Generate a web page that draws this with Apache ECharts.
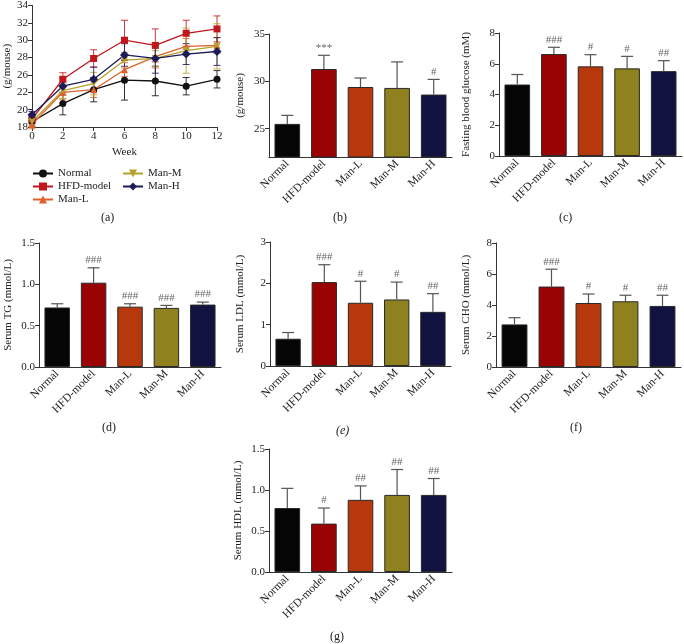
<!DOCTYPE html>
<html><head><meta charset="utf-8">
<script src="https://cdn.jsdelivr.net/npm/echarts@6/dist/echarts.min.js"></script>
<style>html,body{margin:0;padding:0;background:#fff}#c{width:684px;height:644px}</style>
</head><body><div id="c"></div>
<script>
// ---------- DATA ----------
const groups = ['Normal', 'HFD-model', 'Man-L', 'Man-M', 'Man-H'];

// (a) body weight over time
const weeks = [0, 2, 4, 6, 8, 10, 12];
const weekTicks = [0, 2, 4, 6, 8, 10, 12];
const weightAxisValues = [20, 22, 24, 26, 28, 30, 32, 34];
const weightAxisLabels = ['18', '20', '22', '26', '28', '30', '32', '34'];
const wNormal = [20.6, 22.7, 24.3, 25.4, 25.3, 24.7, 25.5];
const wNormalErr = [0.5, 1.3, 1.4, 2.3, 1.7, 1.0, 1.0];
const wHFD = [20.9, 25.5, 27.9, 30.0, 29.4, 30.8, 31.3];
const wHFDErr = [0.5, 0.75, 1.0, 2.3, 1.9, 1.5, 1.5];
const wManL = [20.3, 24.0, 24.3, 26.6, 28.1, 29.3, 29.4];
const wManLErr = [0.5, 0.8, 0.9, 0.8, 1.3, 0.9, 0.9];
const wManM = [20.6, 24.2, 25.0, 27.7, 27.9, 28.8, 29.3];
const wManMErr = [0.5, 0.9, 1.3, 0.9, 0.9, 2.6, 2.6];
const wManH = [21.4, 24.7, 25.5, 28.3, 27.9, 28.4, 28.7];
const wManHErr = [0.4, 1.0, 1.4, 1.3, 1.7, 1.2, 1.6];

// (b) final body weight
const finalWeight = [25.5, 31.3, 29.4, 29.3, 28.6];
const finalWeightErr = [0.9, 1.45, 0.95, 2.75, 1.6];
const finalWeightSig = ['', '***', '', '', '#'];
const finalWeightTicks = [25, 30, 35];

// (c) fasting blood glucose
const glucose = [4.65, 6.63, 5.83, 5.70, 5.52];
const glucoseErr = [0.65, 0.44, 0.76, 0.78, 0.68];
const glucoseSig = ['', '###', '#', '#', '##'];

// (d) serum TG
const tg = [0.72, 1.02, 0.73, 0.715, 0.755];
const tgErr = [0.045, 0.18, 0.035, 0.03, 0.03];
const tgSig = ['', '###', '###', '###', '###'];

// (e) serum LDL
const ldl = [0.66, 2.03, 1.53, 1.61, 1.31];
const ldlErr = [0.15, 0.42, 0.52, 0.42, 0.44];
const ldlSig = ['', '###', '#', '#', '##'];

// (f) serum CHO
const cho = [2.75, 5.19, 4.13, 4.24, 3.94];
const choErr = [0.43, 1.12, 0.58, 0.39, 0.69];
const choSig = ['', '###', '#', '#', '##'];

// (g) serum HDL
const hdl = [0.78, 0.59, 0.88, 0.94, 0.94];
const hdlErr = [0.24, 0.19, 0.17, 0.31, 0.20];
const hdlSig = ['', '#', '##', '##', '##'];

// ---------- STYLE ----------
const F = '"Liberation Serif","DejaVu Serif",serif';
const AX = '#333';
const barColors = ['#050505', '#9a0303', '#b6380b', '#8e811e', '#121240'];
const lineColors = ['#111111', '#c0171c', '#e0602a', '#b5a22c', '#1c1c5a'];
const lineSymbols = ['circle', 'rect', 'triangle', 'path://M0,0 L10,0 L5,9 Z', 'diamond'];

const grids = [], xAxes = [], yAxes = [], series = [], graphics = [];

function yAxisBase(idx, name, nameGap, extra) {
  return Object.assign({
    gridIndex: idx, type: 'value', name: name, nameLocation: 'middle', nameGap: nameGap,
    nameTextStyle: { fontFamily: F, fontSize: 11, color: '#222' },
    axisLine: { show: true, lineStyle: { color: AX, width: 1 } },
    axisTick: { show: true, inside: false, length: 4, lineStyle: { color: AX } },
    axisLabel: { fontFamily: F, fontSize: 11, color: '#222', margin: 4 },
    splitLine: { show: false }
  }, extra);
}

function barPanel(grid, yName, nameGap, values, errs, sigs, yExtra) {
  const idx = grids.length;
  grids.push(grid);
  xAxes.push({
    gridIndex: idx, type: 'category', data: groups,
    axisLine: { lineStyle: { color: AX, width: 1 } },
    axisTick: { show: false },
    axisLabel: { rotate: 45, interval: 0, fontFamily: F, fontSize: 11.5, color: '#222', margin: 5 }
  });
  yAxes.push(yAxisBase(idx, yName, nameGap, yExtra));
  series.push({
    type: 'bar', xAxisIndex: idx, yAxisIndex: idx, barCategoryGap: '30%',
    data: values.map((v, i) => ({ value: v, itemStyle: { color: barColors[i], borderColor: '#2a2a2a', borderWidth: 1 } })),
    z: 2
  });
  series.push({
    type: 'custom', xAxisIndex: idx, yAxisIndex: idx, z: 3,
    data: values.map((v, i) => [i, v, v + errs[i]]),
    renderItem: function (params, api) {
      const i = api.value(0);
      const p0 = api.coord([i, api.value(1)]);
      const p1 = api.coord([i, api.value(2)]);
      const half = 6;
      return {
        type: 'group', children: [
          { type: 'line', shape: { x1: p0[0], y1: p0[1], x2: p1[0], y2: p1[1] }, style: { stroke: '#555', lineWidth: 1.2 } },
          { type: 'line', shape: { x1: p1[0] - half, y1: p1[1], x2: p1[0] + half, y2: p1[1] }, style: { stroke: '#555', lineWidth: 1.2 } },
          { type: 'text', style: { text: sigs[i], x: p1[0], y: p1[1] - 2, align: 'center', verticalAlign: 'bottom', fill: '#666', font: '11px ' + F } }
        ]
      };
    }
  });
}

// ---------- (a) line chart ----------
(function () {
  const idx = grids.length;
  grids.push({ left: 32, top: 4, width: 185, height: 123 });
  xAxes.push({
    gridIndex: idx, type: 'value', min: 0, max: 12, interval: 2,
    name: 'Week', nameLocation: 'middle', nameGap: 20,
    nameTextStyle: { fontFamily: F, fontSize: 11, color: '#222' },
    axisLine: { lineStyle: { color: AX, width: 1 } },
    axisTick: { show: true, length: 4, lineStyle: { color: AX } },
    axisLabel: { fontFamily: F, fontSize: 11, color: '#222', margin: 4, customValues: weekTicks },
    splitLine: { show: false }
  });
  yAxes.push(yAxisBase(idx, '(g/mouse)', 17, {
    min: 20, max: 34, interval: 2,
    axisLabel: {
      fontFamily: F, fontSize: 11, color: '#222', margin: 4,
      formatter: v => weightAxisLabels[weightAxisValues.indexOf(v)]
    }
  }));
  const names = groups;
  const vals = [wNormal, wHFD, wManL, wManM, wManH];
  const errs = [wNormalErr, wHFDErr, wManLErr, wManMErr, wManHErr];
  vals.forEach((arr, k) => {
    series.push({
      type: 'custom', xAxisIndex: idx, yAxisIndex: idx, z: 1,
      data: weeks.map((w, j) => [w, arr[j] - errs[k][j], arr[j] + errs[k][j]]),
      renderItem: function (params, api) {
        const lo = api.coord([api.value(0), api.value(1)]);
        const hi = api.coord([api.value(0), api.value(2)]);
        const h = 3.5;
        const st = { stroke: lineColors[k], lineWidth: 1, opacity: 0.85 };
        return {
          type: 'group', children: [
            { type: 'line', shape: { x1: lo[0], y1: lo[1], x2: hi[0], y2: hi[1] }, style: st },
            { type: 'line', shape: { x1: lo[0] - h, y1: lo[1], x2: lo[0] + h, y2: lo[1] }, style: st },
            { type: 'line', shape: { x1: hi[0] - h, y1: hi[1], x2: hi[0] + h, y2: hi[1] }, style: st }
          ]
        };
      }
    });
  });
  vals.forEach((arr, k) => {
    series.push({
      name: names[k], type: 'line', xAxisIndex: idx, yAxisIndex: idx, z: 4,
      data: weeks.map((w, j) => [w, arr[j]]),
      symbol: lineSymbols[k], symbolSize: k === 4 ? 9 : 7, showSymbol: true,
      lineStyle: { color: lineColors[k], width: 1.3 },
      itemStyle: { color: lineColors[k] }
    });
  });
})();

// ---------- bar panels ----------
barPanel({ left: 269, top: 34, width: 183, height: 123 }, '(g/mouse)', 23, finalWeight, finalWeightErr, finalWeightSig,
  { min: 22, max: 35, axisLabel: { fontFamily: F, fontSize: 11, color: '#222', margin: 4, customValues: finalWeightTicks },
    axisTick: { show: true, length: 4, lineStyle: { color: AX }, customValues: finalWeightTicks } });
barPanel({ left: 499, top: 33, width: 183, height: 123 }, 'Fasting blood glucose (mM)', 27, glucose, glucoseErr, glucoseSig,
  { min: 0, max: 8, interval: 2 });
barPanel({ left: 39, top: 243, width: 182, height: 124 }, 'Serum TG (mmol/L)', 25, tg, tgErr, tgSig,
  { min: 0, max: 1.5, interval: 0.5, axisLabel: { fontFamily: F, fontSize: 11, color: '#222', margin: 4, formatter: v => v.toFixed(1) } });
barPanel({ left: 270, top: 242, width: 181, height: 124 }, 'Serum LDL (mmol/L)', 24, ldl, ldlErr, ldlSig,
  { min: 0, max: 3, interval: 1 });
barPanel({ left: 496, top: 243, width: 185, height: 124 }, 'Serum CHO (mmol/L)', 24, cho, choErr, choSig,
  { min: 0, max: 8, interval: 2 });
barPanel({ left: 269, top: 449, width: 183, height: 123 }, 'Serum HDL (mmol/L)', 25, hdl, hdlErr, hdlSig,
  { min: 0, max: 1.5, interval: 0.5, axisLabel: { fontFamily: F, fontSize: 11, color: '#222', margin: 4, formatter: v => v.toFixed(1) } });

// ---------- panel letters ----------
const panelLetters = [['(a)', 109, 219], ['(b)', 341, 219], ['(c)', 567, 219], ['(d)', 110, 429], ['(e)', 344, 432], ['(f)', 578, 429], ['(g)', 338, 638]];
panelLetters.forEach(p => graphics.push({
  type: 'text', left: p[1] - 8, top: p[2] - 7,
  style: { text: p[0], font: (p[0] === '(e)' ? 'italic ' : '') + '12px ' + F, fill: '#222' }
}));

const option = {
  animation: false,
  grid: grids, xAxis: xAxes, yAxis: yAxes, series: series, graphic: graphics,
  legend: [
    { data: ['Normal', 'HFD-model', 'Man-L'], orient: 'vertical', left: 27, top: 163, itemGap: 2, itemWidth: 20, itemHeight: 10,
      textStyle: { fontFamily: F, fontSize: 11, color: '#222' } },
    { data: ['Man-M', 'Man-H'], orient: 'vertical', left: 117, top: 163, itemGap: 2, itemWidth: 20, itemHeight: 10,
      textStyle: { fontFamily: F, fontSize: 11, color: '#222' } }
  ]
};
echarts.init(document.getElementById('c')).setOption(option);
</script></body></html>
